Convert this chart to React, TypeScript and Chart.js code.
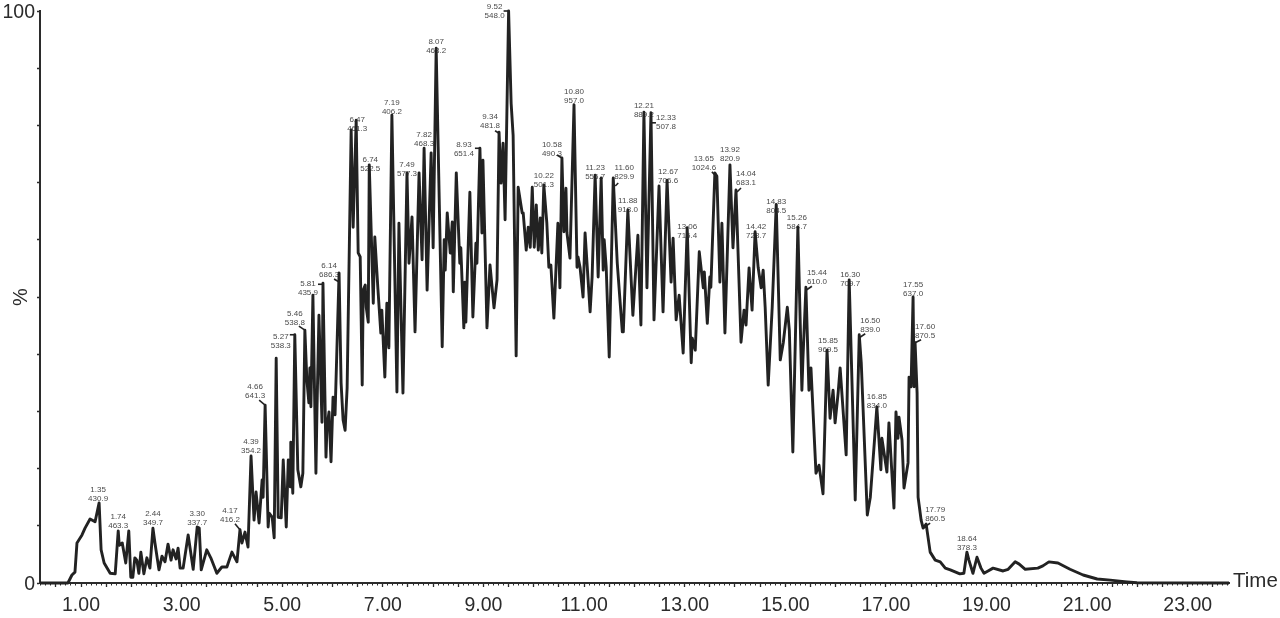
import React, { useEffect, useRef } from "react";
import { Chart, registerables } from "chart.js";

Chart.register(...registerables);

const retentionTimes = [
  0.185,0.74,0.82,0.88,0.92,1.02,1.08,1.18,1.28,1.36,1.40,1.46,1.58,1.68,1.74,1.76,1.82,1.89,1.95,1.99,2.03,
  2.07,2.11,2.15,2.19,2.25,2.31,2.37,2.43,2.47,2.55,2.61,2.67,2.73,2.79,2.83,2.89,2.93,2.97,3.03,3.13,
  3.23,3.31,3.35,3.39,3.50,3.58,3.70,3.80,3.90,4.00,4.10,4.16,4.20,4.26,4.32,4.38,4.44,4.48,4.54,4.60,
  4.62,4.66,4.72,4.74,4.80,4.84,4.88,4.92,4.98,5.02,5.08,5.12,5.16,5.17,5.21,5.25,5.31,5.37,5.41,5.45,
  5.49,5.53,5.55,5.57,5.61,5.67,5.69,5.73,5.79,5.81,5.87,5.89,5.93,5.97,6.01,6.05,6.13,6.17,6.21,6.25,
  6.29,6.37,6.41,6.47,6.51,6.55,6.59,6.61,6.65,6.67,6.71,6.73,6.81,6.84,6.90,6.96,6.98,7.04,7.08,7.10,
  7.12,7.18,7.28,7.32,7.40,7.48,7.52,7.58,7.64,7.72,7.78,7.82,7.88,7.96,8.00,8.06,8.18,8.22,8.24,8.28,
  8.34,8.38,8.40,8.46,8.53,8.55,8.61,8.63,8.65,8.73,8.79,8.85,8.87,8.93,8.97,8.99,9.07,9.13,9.21,9.27,
  9.31,9.35,9.39,9.43,9.50,9.55,9.59,9.65,9.69,9.77,9.79,9.85,9.89,9.93,9.97,10.01,10.05,10.09,10.13,10.16,
  10.20,10.26,10.30,10.34,10.40,10.48,10.52,10.56,10.60,10.64,10.66,10.72,10.80,10.86,10.88,10.92,10.98,11.02,11.12,11.16,
  11.22,11.28,11.34,11.38,11.40,11.44,11.50,11.58,11.66,11.76,11.78,11.87,11.97,12.07,12.13,12.19,12.25,12.33,12.39,12.49,
  12.57,12.65,12.73,12.77,12.83,12.89,12.97,13.05,13.13,13.15,13.21,13.29,13.37,13.39,13.45,13.50,13.52,13.60,13.64,13.70,
  13.74,13.80,13.90,13.96,14.02,14.12,14.18,14.22,14.28,14.34,14.40,14.46,14.52,14.56,14.60,14.66,14.74,14.82,14.90,14.96,
  15.04,15.08,15.15,15.25,15.33,15.35,15.41,15.47,15.51,15.61,15.67,15.75,15.83,15.89,15.95,15.99,16.05,16.09,16.21,16.27,
  16.39,16.47,16.51,16.63,16.69,16.77,16.82,16.90,16.92,17.02,17.06,17.16,17.20,17.24,17.26,17.32,17.36,17.44,17.46,17.50,
  17.54,17.56,17.58,17.62,17.64,17.70,17.74,17.80,17.88,17.98,18.08,18.18,18.28,18.47,18.55,18.61,18.65,18.73,18.81,18.89,
  18.95,19.03,19.13,19.33,19.43,19.57,19.65,19.77,20.02,20.12,20.24,20.42,20.66,20.92,21.20,21.46,21.79,21.99,23.82,
];

const intensities = [
  0,0,1.4,1.9,7.0,8.4,9.6,11.2,10.7,14.0,5.8,3.5,1.7,1.6,9.1,6.6,7.0,3.5,9.1,1.0,1.0,
  4.4,4.0,1.7,5.4,1.6,4.4,2.6,9.6,7.0,2.3,4.7,3.7,6.8,4.0,5.8,4.2,6.1,2.6,2.6,8.4,
  2.4,9.8,9.6,2.3,5.8,4.4,1.7,2.8,2.8,5.4,3.7,9.3,7.0,8.9,6.3,22.2,11.0,15.9,10.5,18.0,
  15.0,31.1,9.8,12.2,11.5,7.9,39.3,11.5,11.4,21.5,9.8,21.5,16.8,24.6,15.7,43.4,19.8,16.8,19.2,44.2,
  35.5,31.5,37.6,30.8,50.3,19.2,29.9,46.8,28.1,52.4,22.0,27.3,29.9,21.2,32.5,29.4,54.2,35.0,28.5,26.7,
  34.1,79.2,62.2,80.9,57.7,57.0,34.6,51.2,52.1,48.2,45.6,73.1,48.9,60.5,51.7,43.7,47.7,36.0,48.9,43.4,
  41.1,81.8,33.4,62.9,33.2,71.7,55.9,64.0,43.9,71.7,56.5,76.0,51.2,75.2,58.6,93.5,41.3,60.0,54.7,64.7,
  57.7,63.1,50.9,71.7,55.9,58.6,44.6,52.6,45.6,68.3,46.5,59.4,55.9,76.0,61.2,73.9,44.6,55.6,48.1,53.0,
  78.8,69.9,76.9,63.5,100,83.9,78.2,39.7,69.2,64.7,64.7,58.2,62.2,58.7,69.2,58.7,66.1,58.2,63.8,57.7,
  69.6,62.9,55.2,55.6,46.3,62.9,51.6,74.3,61.4,69.0,61.2,56.8,83.6,55.2,57.0,55.2,50.0,61.2,47.4,53.5,
  71.3,53.5,70.8,54.7,60.0,55.2,39.5,70.8,55.9,43.9,43.9,65.2,46.8,60.8,45.1,82.3,51.6,82.2,46.0,69.4,
  47.4,70.4,52.6,60.3,46.0,50.3,40.2,62.1,38.5,42.8,40.7,57.9,51.6,54.4,45.4,53.5,51.7,71.7,71.1,52.6,
  62.9,43.7,73.1,58.6,68.7,42.1,47.7,45.1,55.1,47.7,61.4,55.2,51.6,54.7,48.2,34.6,48.2,66.2,39.0,42.0,
  48.2,44.2,22.9,62.2,33.7,39.0,51.7,33.7,37.6,19.2,20.6,15.6,40.7,28.8,33.7,28.0,33.2,37.6,22.4,53.0,
  14.5,43.4,38.5,11.9,15.0,24.6,30.8,19.8,25.3,19.4,28.0,13.1,29.9,25.3,29.0,25.0,16.6,21.0,36.0,34.3,
  50.0,34.3,42.0,33.2,15.0,11.0,9.6,10.3,5.4,4.0,3.7,2.6,2.3,1.6,1.7,5.4,4.0,1.7,4.5,2.6,
  1.7,2.1,2.6,2.1,2.4,3.7,3.3,2.4,2.6,3.0,3.7,3.5,2.4,1.4,0.7,0.5,0.2,0.05,0,
];

const peakRt = ["1.35","1.74","2.44","3.30","4.17","4.39","4.66","5.27","5.46","5.81","6.14","6.47","6.74","7.19","7.49","7.82","8.07","8.93","9.34","9.52","10.22","10.58","10.80","11.23","11.60","11.88","12.21","12.33","12.67","13.06","13.65","13.92","14.04","14.42","14.83","15.26","15.44","15.85","16.30","16.50","16.85","17.55","17.60","17.79","18.64"];
const peakMz = ["430.9","463.3","349.7","337.7","416.2","354.2","641.3","538.3","538.8","435.9","686.3","461.3","522.5","406.2","577.3","468.3","468.2","651.4","481.8","548.0","501.3","490.3","957.0","556.7","829.9","918.0","889.2","507.8","706.6","715.4","1024.6","820.9","683.1","728.7","804.5","584.7","610.0","969.5","709.7","839.0","834.0","637.0","870.5","860.5","378.3"];
const peakAnchorTimes = [1.36,1.74,2.43,3.31,4.16,4.38,4.66,5.25,5.45,5.81,6.13,6.47,6.73,7.18,7.48,7.82,8.06,8.93,9.31,9.50,10.20,10.56,10.80,11.22,11.58,11.87,12.19,12.33,12.65,13.05,13.60,13.90,14.02,14.40,14.82,15.25,15.41,15.83,16.27,16.47,16.82,17.54,17.58,17.74,18.61];
const peakAnchorValues = [14.0,9.1,9.6,9.8,9.3,22.2,31.1,43.4,44.2,52.4,54.2,80.9,73.1,81.8,71.7,76.0,93.5,76.0,78.8,100,69.6,74.3,83.6,71.3,70.8,65.2,82.3,82.2,70.4,62.1,71.7,73.1,68.7,61.4,66.2,62.2,51.7,40.7,53.0,43.4,30.8,50.0,42.0,9.6,5.4];

// Layout only: offset in px of each two-line label from its peak.
const labelOffsets: [number, number][] = [[-1,-9],[0,-9.5],[0,-9.5],[0,-8.5],[-10,-14.5],[0,-9.5],[-10,-13.5],[-14,6.5],[-10,-11.5],[-15,5.5],[-10,-2.5],[1,4.5],[1,-0.5],[0,-7.5],[0,-3.5],[0,-8.5],[0,-1.5],[-16,1.5],[-9,-10.5],[-14,0.5],[0,-4.5],[-10,-8.5],[0,-9],[0,-2.5],[11,-5.5],[0,-4.5],[0,-1.5],[15,9.5],[1,-4.5],[0,3.5],[-11,-10],[0,-10.5],[10,-11.5],[1,-0.5],[0,1.5],[-1,-4.5],[11,-10],[1,-4.5],[1,-0.5],[11,-9.5],[0,-5.5],[0,-7.5],[10,-11.5],[12,-13.5],[0,-8.5]];
// Layout only: short leader strokes, keyed by peak index, [x1,y1,x2,y2] in px from the peak.
const leaders: Record<number, [number, number, number, number]> = {
  4:[-5,-6,0,0],6:[-6,-5,0,0],7:[-5,0,0,0],8:[-6,-4,0,0],9:[-5,1,0,1],10:[-5,6,0,9],17:[-5,0,0,0],18:[-4,-1.5,0,1],19:[-5,0,0,0],
  21:[-5,-3,0,0],24:[2,8,5,5],27:[0,10,5,10],30:[-3,-1,0,2],32:[1,2,5,-2],36:[0,3,6,-1],39:[0,3,6,-1],42:[0,0,6,-3],43:[0,0,7,-5],
};

const TEXT = "#2b2b2b";
const FONT = "'Liberation Sans', Arial, sans-serif";

const annotationPlugin = {
  id: "peakAnnotations",
  beforeDatasetsDraw(chart: any) {
    const { ctx, scales } = chart;
    ctx.save();
    ctx.font = `8px ${FONT}`;
    ctx.textAlign = "center";
    ctx.textBaseline = "middle";
    ctx.fillStyle = "#4a4a4a";
    peakRt.forEach((rt, i) => {
      const px = scales.x.getPixelForValue(peakAnchorTimes[i]);
      const py = scales.y.getPixelForValue(peakAnchorValues[i]);
      const [dx, dy] = labelOffsets[i];
      ctx.fillText(rt, px + dx, py + dy - 4.5);
      ctx.fillText(peakMz[i], px + dx, py + dy + 4.5);
      const l = leaders[i];
      if (l) {
        ctx.beginPath();
        ctx.strokeStyle = "#222";
        ctx.lineWidth = 1.6;
        ctx.moveTo(px + l[0], py + l[1]);
        ctx.lineTo(px + l[2], py + l[3]);
        ctx.stroke();
      }
    });
    ctx.restore();
  },
  afterDraw(chart: any) {
    const { ctx, chartArea } = chart;
    ctx.save();
    ctx.font = `20.5px ${FONT}`;
    ctx.fillStyle = TEXT;
    ctx.textAlign = "left";
    ctx.textBaseline = "middle";
    ctx.fillText("Time", chartArea.right + 4, chartArea.bottom - 2);
    ctx.restore();
  },
};

export default function App() {
  const ref = useRef<HTMLCanvasElement>(null);
  useEffect(() => {
    const chart = new Chart(ref.current as HTMLCanvasElement, {
      type: "line",
      data: {
        datasets: [
          {
            data: retentionTimes.map((t, i) => ({ x: t, y: intensities[i] })),
            borderColor: "#222222",
            borderWidth: 2.9,
            pointRadius: 0,
            tension: 0,
            clip: false,
            borderJoinStyle: "round",
          },
        ],
      },
      plugins: [annotationPlugin],
      options: {
        animation: false,
        responsive: false,
        devicePixelRatio: 1,
        events: [],
        layout: { padding: { top: 11, right: 51, left: 0, bottom: 0 } },
        plugins: { legend: { display: false }, tooltip: { enabled: false }, title: { display: false } },
        scales: {
          x: {
            type: "linear",
            position: "bottom",
            min: 0.185,
            max: 23.82,
            afterFit: (s: any) => { s.height = 35; s.paddingLeft = 0; s.paddingRight = 0; },
            border: { color: "#2b2b2b", width: 2 },
            grid: { drawOnChartArea: false, drawTicks: true, tickLength: 4, tickColor: "#2b2b2b", tickWidth: 1.3 },
            ticks: {
              stepSize: 0.5,
              includeBounds: false,
              autoSkip: false,
              maxRotation: 0,
              padding: 7,
              color: TEXT,
              font: { family: FONT, size: 19.5 },
              callback: (v: any) => (Number(v) % 2 === 1 ? Number(v).toFixed(2) : ""),
            },
          },
          xMinor: {
            type: "linear",
            axis: "x",
            position: { y: 0 },
            min: 0.185,
            max: 23.82,
            afterFit: (s: any) => { s.paddingLeft = 0; s.paddingRight = 0; },
            border: { display: false },
            grid: { drawOnChartArea: false, drawTicks: true, tickLength: 2.5, tickColor: "#2b2b2b", tickWidth: 1 },
            ticks: { stepSize: 0.1, includeBounds: false, autoSkip: false, maxRotation: 0, display: false },
          },
          y: {
            type: "linear",
            min: 0,
            max: 100,
            afterFit: (s: any) => { s.width = 40; s.paddingTop = 0; s.paddingBottom = 0; },
            border: { color: "#2b2b2b", width: 2 },
            grid: { drawOnChartArea: false, drawTicks: true, tickLength: 3, tickColor: "#2b2b2b", tickWidth: 1.3 },
            title: {
              display: true,
              text: "%",
              color: TEXT,
              font: { family: FONT, size: 20 },
              padding: { top: 9, bottom: 0 },
            },
            ticks: {
              stepSize: 10,
              autoSkip: false,
              padding: 2,
              labelOffset: 2,
              color: TEXT,
              font: { family: FONT, size: 19.5 },
              callback: (v: any) => (v === 0 || v === 100 ? String(v) : ""),
            },
          },
        },
      } as any,
    } as any);
    return () => chart.destroy();
  }, []);
  return (
    <canvas
      ref={ref}
      width={1280}
      height={618}
      style={{ position: "fixed", left: 0, top: 0, width: 1280, height: 618, display: "block" }}
    />
  );
}
